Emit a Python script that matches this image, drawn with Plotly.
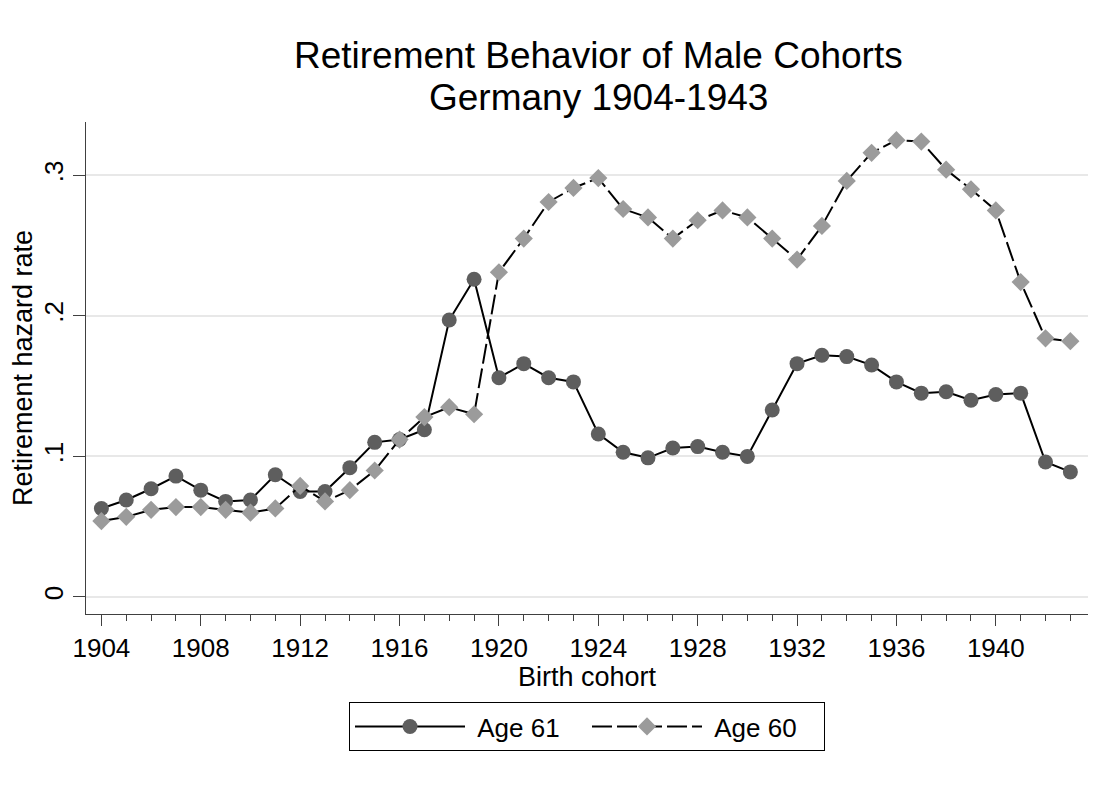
import plotly.graph_objects as go

# birth cohorts 1904..1943
cohorts = list(range(1904, 1944))

# retirement hazard rate at age 61 (circles)
age61 = [0.063, 0.069, 0.077, 0.086, 0.076, 0.068, 0.069, 0.087, 0.075, 0.075,
         0.092, 0.110, 0.112, 0.119, 0.197, 0.226, 0.156, 0.166, 0.156, 0.153,
         0.116, 0.103, 0.099, 0.106, 0.107, 0.103, 0.100, 0.133, 0.166, 0.172,
         0.171, 0.165, 0.153, 0.145, 0.146, 0.140, 0.144, 0.145, 0.096, 0.089]

# retirement hazard rate at age 60 (diamonds)
age60 = [0.054, 0.057, 0.062, 0.064, 0.064, 0.062, 0.060, 0.063, 0.079, 0.068,
         0.076, 0.090, 0.112, 0.128, 0.135, 0.130, 0.231, 0.255, 0.281, 0.291,
         0.298, 0.276, 0.270, 0.255, 0.268, 0.275, 0.270, 0.255, 0.240, 0.264,
         0.296, 0.316, 0.325, 0.324, 0.304, 0.290, 0.275, 0.224, 0.184, 0.182]

ytick_vals = [0, 0.1, 0.2, 0.3]
ytick_text = ["0", ".1", ".2", ".3"]

title_lines = ["Retirement Behavior of Male Cohorts", "Germany 1904-1943"]

FONT = "Liberation Sans, Arial, sans-serif"

fig = go.Figure()

# leading nbsp widens the gap between legend symbol and label
fig.add_trace(go.Scatter(
    x=cohorts, y=age61, name="\u00a0Age 61", mode="lines+markers",
    line=dict(color="black", width=2),
    marker=dict(symbol="circle", size=15, color="#5e5e5e", line=dict(width=0)),
))

fig.add_trace(go.Scatter(
    x=cohorts, y=age60, name="\u00a0Age 60", mode="lines+markers",
    line=dict(color="black", width=2, dash="20px,5px"),
    marker=dict(symbol="diamond", size=14, color="#9b9b9b", line=dict(width=0)),
))

# page body has an 8px margin, so the figure is 8px smaller and margins shifted
# plot area ends up at 86..1088 px wide, 122..614 px tall in the window
fig.update_layout(
    width=1103, height=780,
    margin=dict(l=78, r=23, t=114, b=174),
    paper_bgcolor="white", plot_bgcolor="white",
    font=dict(family=FONT, size=26, color="black"),
    showlegend=True,
    legend=dict(
        orientation="h", x=0.5, xanchor="center", y=-0.179, yanchor="top",
        bordercolor="black", borderwidth=1, font=dict(size=26),
        itemwidth=110, entrywidth=112, traceorder="normal",
    ),
)

# title as two separate lines, tighter spacing than plotly's <br>
xc = (598 - 86) / 1002
fig.add_annotation(text=title_lines[0], xref="paper", yref="paper",
                   x=xc, y=(614 - 55.5) / 492, xanchor="center", yanchor="middle",
                   showarrow=False, font=dict(size=37))
fig.add_annotation(text=title_lines[1], xref="paper", yref="paper",
                   x=xc, y=(614 - 97.5) / 492, xanchor="center", yanchor="middle",
                   showarrow=False, font=dict(size=37))

# x axis title just under the tick labels
fig.add_annotation(text="Birth cohort", xref="paper", yref="paper",
                   x=(587 - 86) / 1002, y=(614 - 677) / 492, xanchor="center", yanchor="middle",
                   showarrow=False, font=dict(size=27))

fig.update_xaxes(
    range=[1903.38, 1943.71],
    tickmode="linear", tick0=1904, dtick=4,
    ticks="outside", ticklen=11, tickwidth=1, tickcolor="#404040",
    minor=dict(tickmode="linear", tick0=1904, dtick=1, ticks="outside", ticklen=6,
               tickwidth=1, tickcolor="#404040", showgrid=False),
    showgrid=False, zeroline=False,
    showline=True, linecolor="#404040", linewidth=1,
)

fig.update_yaxes(
    range=[-0.0121, 0.3379],
    tickvals=ytick_vals, ticktext=ytick_text, tickangle=-90,
    ticks="outside", ticklen=12, tickwidth=1, tickcolor="#404040",
    showgrid=True, gridcolor="#e8e8e8", gridwidth=1.5, zeroline=False,
    showline=True, linecolor="#404040", linewidth=1,
    title=dict(text="Retirement hazard rate", standoff=0, font=dict(size=27)),
)

fig.write_html("out.html")
